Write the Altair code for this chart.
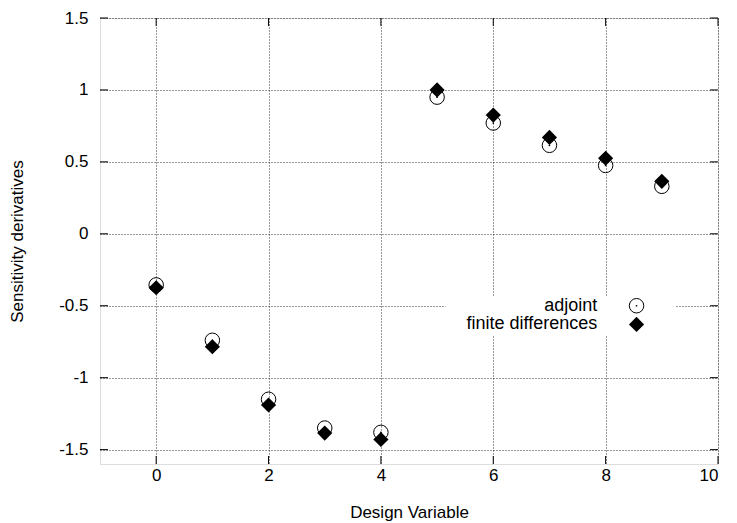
import altair as alt
import pandas as pd

design_var = [0, 1, 2, 3, 4, 5, 6, 7, 8, 9]
adjoint = [-0.355, -0.74, -1.15, -1.35, -1.38, 0.95, 0.77, 0.615, 0.475, 0.33]
finite_diff = [-0.375, -0.785, -1.19, -1.385, -1.43, 1.0, 0.825, 0.67, 0.525, 0.365]

x_ticks = [0, 2, 4, 6, 8, 10]
y_ticks = [-1.5, -1, -0.5, 0, 0.5, 1, 1.5]

legend_labels = ["adjoint", "finite differences"]
legend_y = [-0.5, -0.63]

FONT = "Liberation Sans"
FS = 17
W, H = 618, 446

df = pd.DataFrame({"x": design_var, "adj": adjoint, "fd": finite_diff})

xs = alt.Scale(domain=[-1, 10], nice=False, zero=False)
ys = alt.Scale(domain=[-1.6, 1.5], nice=False, zero=False)

x_axis = alt.Axis(values=x_ticks, title="Design Variable", grid=True, gridDash=[1, 2],
                  gridColor="#000", gridOpacity=0.8, tickSize=0, domain=False,
                  labelPadding=3, titlePadding=21, labelFontSize=FS, titleFontSize=FS,
                  labelFont=FONT, titleFont=FONT, titleFontWeight="normal",
                  labelColor="#000", titleColor="#000", labelExpr="toString(datum.value)")
y_axis = alt.Axis(values=y_ticks, title="Sensitivity derivatives", grid=True, gridDash=[1, 2],
                  gridColor="#000", gridOpacity=0.8, tickSize=0, domain=False,
                  labelPadding=12, titlePadding=32, labelFontSize=FS, titleFontSize=FS,
                  labelFont=FONT, titleFont=FONT, titleFontWeight="normal",
                  labelColor="#000", titleColor="#000", labelExpr="toString(datum.value)")

base = alt.Chart(df)

circles = base.mark_point(shape="circle", filled=False, stroke="black", strokeWidth=1, size=210, opacity=1).encode(
    x=alt.X("x:Q", scale=xs, axis=x_axis),
    y=alt.Y("adj:Q", scale=ys, axis=y_axis),
)
dots = base.mark_point(shape="circle", filled=True, color="black", size=3, opacity=1).encode(
    x=alt.X("x:Q", scale=xs), y=alt.Y("adj:Q", scale=ys))
diamonds = base.mark_point(shape="diamond", filled=True, color="black", size=230, opacity=1).encode(
    x=alt.X("x:Q", scale=xs), y=alt.Y("fd:Q", scale=ys))

# inward ticks on all four sides
xt = alt.Chart(pd.DataFrame({"v": x_ticks}))
yt = alt.Chart(pd.DataFrame({"v": y_ticks}))
tick_b = xt.mark_rule(color="black", strokeWidth=1).encode(x=alt.X("v:Q", scale=xs), y=alt.value(H), y2=alt.value(H - 8))
tick_t = xt.mark_rule(color="black", strokeWidth=1).encode(x=alt.X("v:Q", scale=xs), y=alt.value(0), y2=alt.value(8))
tick_l = yt.mark_rule(color="black", strokeWidth=1).encode(y=alt.Y("v:Q", scale=ys), x=alt.value(0), x2=alt.value(8))
tick_r = yt.mark_rule(color="black", strokeWidth=1).encode(y=alt.Y("v:Q", scale=ys), x=alt.value(W), x2=alt.value(W - 8))

# legend inside the plot
leg_df = pd.DataFrame({"label": legend_labels, "y": legend_y, "tx": [7.85, 7.85], "sx": [8.55, 8.55]})
leg = alt.Chart(leg_df)
leg_bg = alt.Chart(pd.DataFrame({"x1": [5.15], "x2": [9.25], "y1": [-0.435], "y2": [-0.705]})).mark_rect(
    color="white").encode(x=alt.X("x1:Q", scale=xs), x2="x2:Q", y=alt.Y("y1:Q", scale=ys), y2="y2:Q")
leg_text = leg.mark_text(align="right", baseline="middle", font=FONT, fontSize=18, color="black").encode(
    x=alt.X("tx:Q", scale=xs), y=alt.Y("y:Q", scale=ys), text="label:N")
leg_c = alt.Chart(leg_df.iloc[[0]]).mark_point(shape="circle", filled=False, stroke="black", strokeWidth=1, size=210, opacity=1).encode(
    x=alt.X("sx:Q", scale=xs), y=alt.Y("y:Q", scale=ys))
leg_cd = alt.Chart(leg_df.iloc[[0]]).mark_point(shape="circle", filled=True, color="black", size=3, opacity=1).encode(
    x=alt.X("sx:Q", scale=xs), y=alt.Y("y:Q", scale=ys))
leg_d = alt.Chart(leg_df.iloc[[1]]).mark_point(shape="diamond", filled=True, color="black", size=230, opacity=1).encode(
    x=alt.X("sx:Q", scale=xs), y=alt.Y("y:Q", scale=ys))

chart = alt.layer(
    circles, dots, diamonds, leg_bg, leg_text, leg_c, leg_cd, leg_d,
    tick_b, tick_t, tick_l, tick_r,
).properties(
    width=W, height=H,
    autosize=alt.AutoSizeParams(type="none"),
    padding={"left": 92, "top": 10, "right": 11, "bottom": 60},
).configure_view(stroke="black", strokeWidth=1).configure(background="white")

chart.save("out.html", embed_options={"renderer": "svg", "actions": False})
